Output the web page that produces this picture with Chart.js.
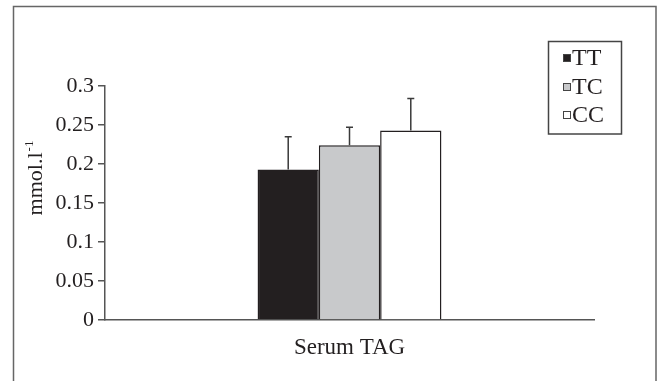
<!DOCTYPE html>
<html>
<head>
<meta charset="utf-8">
<script src="https://cdn.jsdelivr.net/npm/chart.js@4.4.0/dist/chart.umd.min.js"></script>
<style>
  html, body { margin: 0; padding: 0; background: #ffffff; }
  #wrap { width: 662px; height: 381px; position: relative; }
</style>
</head>
<body>
<div id="wrap"><canvas id="c" width="662" height="381"></canvas></div>
<script>
// ---- data ----
const categories = ['Serum TAG'];
const seriesLabels = ['TT', 'TC', 'CC'];
const ttValues = [0.193];
const tcValues = [0.224];
const ccValues = [0.243];
const ttErrors = [0.042];
const tcErrors = [0.023];
const ccErrors = [0.041];
const yAxisTitle = 'mmol.l';
const yAxisTitleSup = '-1';

const FONT = '"Liberation Serif", "Times New Roman", serif';
const INK = '#231f20';

const errorsBySeries = [ttErrors, tcErrors, ccErrors];

const errorBarPlugin = {
  id: 'errorBars',
  afterDatasetsDraw(chart) {
    const ctx = chart.ctx;
    const yScale = chart.scales.y;
    chart.data.datasets.forEach((ds, i) => {
      const meta = chart.getDatasetMeta(i);
      const errs = errorsBySeries[i];
      meta.data.forEach((el, j) => {
        const v = ds.data[j];
        const top = yScale.getPixelForValue(v + errs[j]);
        ctx.save();
        ctx.strokeStyle = '#3a3a3a';
        ctx.lineWidth = 1.5;
        ctx.beginPath();
        ctx.moveTo(el.x, el.y);
        ctx.lineTo(el.x, top);
        ctx.moveTo(el.x - 3.5, top);
        ctx.lineTo(el.x + 3.5, top);
        ctx.stroke();
        ctx.restore();
      });
    });
  }
};

const framePlugin = {
  id: 'frame',
  beforeDraw(chart) {
    const ctx = chart.ctx;
    ctx.save();
    ctx.fillStyle = '#ffffff';
    ctx.fillRect(0, 0, chart.width, chart.height);
    ctx.strokeStyle = '#666666';
    ctx.lineWidth = 1.5;
    ctx.beginPath();
    ctx.moveTo(13.5, chart.height);
    ctx.lineTo(13.5, 6.5);
    ctx.lineTo(656, 6.5);
    ctx.lineTo(656, chart.height);
    ctx.stroke();
    ctx.restore();
  }
};

const yTitlePlugin = {
  id: 'yTitle',
  afterDraw(chart) {
    const ctx = chart.ctx;
    ctx.save();
    ctx.fillStyle = INK;
    ctx.textBaseline = 'alphabetic';
    ctx.font = '22px ' + FONT;
    const w1 = ctx.measureText(yAxisTitle).width;
    ctx.font = '13px ' + FONT;
    const w2 = ctx.measureText(yAxisTitleSup).width;
    const total = w1 + w2 + 1;
    ctx.translate(42, 178);
    ctx.rotate(-Math.PI / 2);
    ctx.textAlign = 'left';
    ctx.font = '22px ' + FONT;
    ctx.fillText(yAxisTitle, -total / 2, 0);
    ctx.font = '13px ' + FONT;
    ctx.fillText(yAxisTitleSup, -total / 2 + w1 + 1, -9);
    ctx.restore();
  }
};

const legendPlugin = {
  id: 'boxLegend',
  afterDraw(chart) {
    const ctx = chart.ctx;
    ctx.save();
    ctx.strokeStyle = '#444444';
    ctx.lineWidth = 1.5;
    ctx.strokeRect(548.5, 41.5, 73, 92.5);
    const ys = [58, 87, 115];
    chart.data.datasets.forEach((ds, i) => {
      const y = ys[i];
      ctx.fillStyle = ds.backgroundColor;
      ctx.fillRect(563.5, y - 3.5, 7, 7);
      ctx.strokeStyle = '#444444';
      ctx.lineWidth = 1;
      ctx.strokeRect(563.5, y - 3.5, 7, 7);
      ctx.fillStyle = INK;
      ctx.font = '24px ' + FONT;
      ctx.textAlign = 'left';
      ctx.textBaseline = 'middle';
      ctx.fillText(ds.label, 572, y + 1);
    });
    ctx.restore();
  }
};

const colors = ['#231f20', '#c8c9cb', '#ffffff'];
const seriesValues = [ttValues, tcValues, ccValues];

new Chart(document.getElementById('c'), {
  type: 'bar',
  data: {
    labels: categories,
    datasets: seriesLabels.map((lab, i) => ({
      label: lab,
      data: seriesValues[i],
      backgroundColor: colors[i],
      borderColor: INK,
      borderWidth: 1.5,
      borderSkipped: 'bottom',
      barPercentage: 1.0,
      categoryPercentage: 0.376
    }))
  },
  options: {
    responsive: false,
    animation: false,
    devicePixelRatio: 1,
    layout: { padding: { top: 86, right: 68, left: 0, bottom: 0 } },
    plugins: {
      legend: { display: false },
      tooltip: { enabled: false }
    },
    scales: {
      x: {
        grid: { display: false, drawTicks: false },
        border: { display: true, color: '#555555', width: 1.5 },
        ticks: { color: INK, font: { family: FONT, size: 23 }, padding: 14 },
        afterFit(scale) { scale.height = 61; }
      },
      y: {
        min: 0,
        max: 0.3,
        ticks: {
          stepSize: 0.05,
          color: INK,
          font: { family: FONT, size: 22 },
          padding: 4,
          callback: (v) => String(Math.round(v * 100) / 100)
        },
        grid: { drawOnChartArea: false, drawTicks: true, tickLength: 7, color: '#555555', lineWidth: 1.5 },
        border: { display: true, color: '#555555', width: 1.5 },
        afterFit(scale) { scale.width = 105; }
      }
    }
  },
  plugins: [framePlugin, errorBarPlugin, yTitlePlugin, legendPlugin]
});
</script>
</body>
</html>
